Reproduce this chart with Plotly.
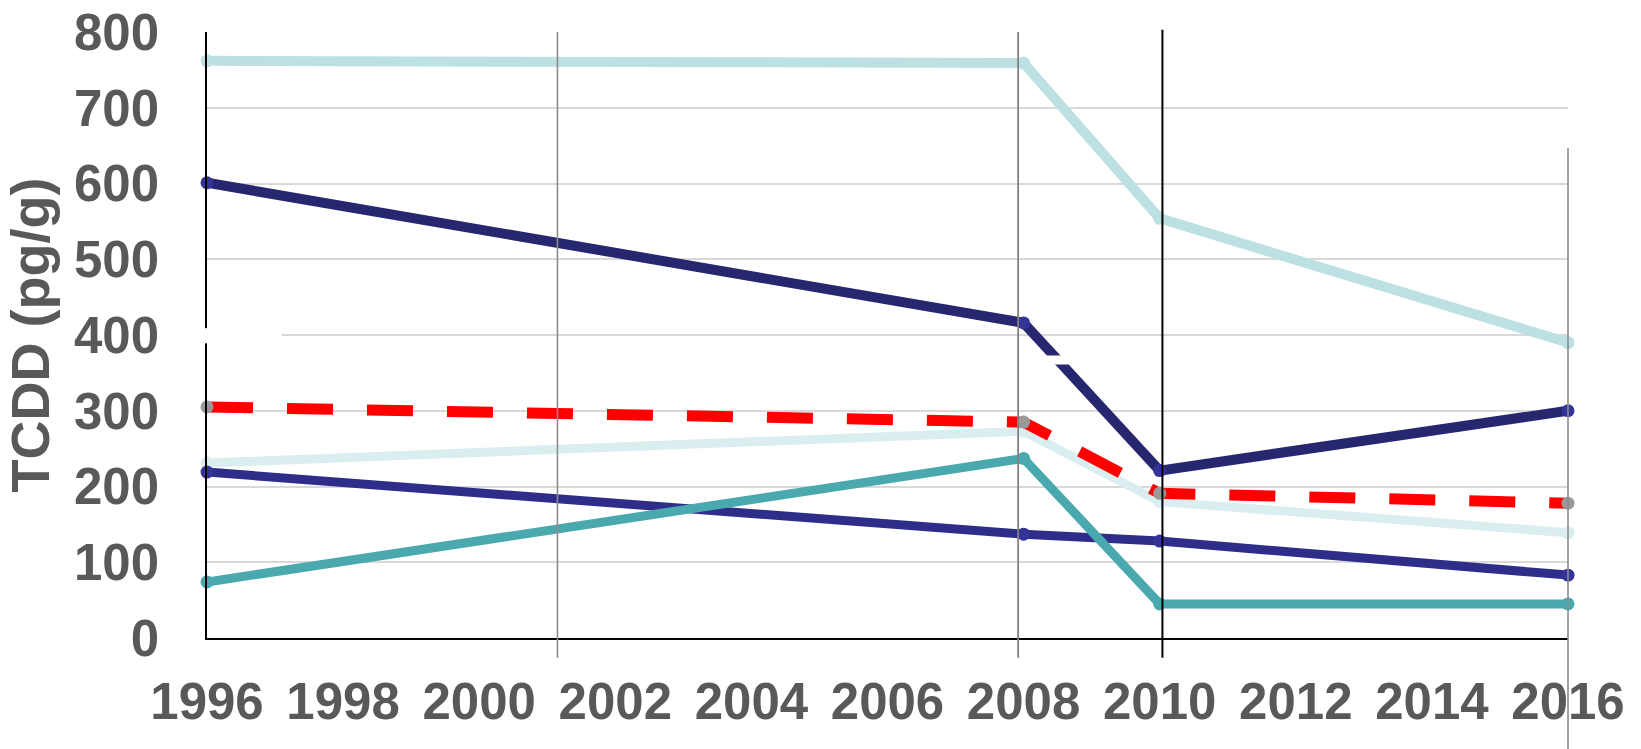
import plotly.graph_objects as go

# Sampling years and TCDD concentrations (pg/g) for each series
years = [1996, 2008, 2010, 2016]

series_a = [762, 759, 554, 390]   # light blue
series_b = [601, 416, 221, 300]   # dark navy
series_c = [305, 285, 191, 178]   # red dashed reference
series_d = [231, 273, 180, 139]   # pale blue
series_e = [219, 137, 128, 83]    # navy
series_f = [74, 237, 45, 45]      # teal

x_min, x_max = 1996, 2016
y_min, y_max = 0, 800

# Vertical reference lines: (year, value from, value to, colour, width)
ref_lines = [
    (2001.15, -26, 800, "#8c8c8c", 1.6),
    (2007.92, -26, 800, "#808080", 1.8),
    (2010.04, -26, 803, "#000000", 2.0),
    (2016.0, -160, 647, "#8c8c8c", 1.6),
]

x_ticks = list(range(1996, 2017, 2))
y_ticks = list(range(0, 801, 100))

styles = [
    (series_a, "#bde0e3", "#bde0e3", 10, "solid"),
    (series_b, "#27276f", "#333399", 10, "solid"),
    (series_d, "#daeef0", "#daeef0", 9, "solid"),
    (series_e, "#2e2e8a", "#333399", 9, "solid"),
    (series_f, "#4aa9af", "#4aa9af", 9, "solid"),
    (series_c, "#ff0000", "#999999", 11, "46px,34px"),
]

fig = go.Figure()
for vals, lc, mc, lw, dash in styles:
    fig.add_trace(go.Scatter(
        x=years, y=vals, mode="lines+markers",
        line=dict(color=lc, width=lw, dash=dash),
        marker=dict(color=mc, size=13),
        cliponaxis=False, showlegend=False, hoverinfo="skip",
    ))


def px(year):
    return (year - x_min) / (x_max - x_min)


def py(value):
    return (value - y_min) / (y_max - y_min)


# reference lines in paper coordinates so they may run past the axis
shapes = []
for x, y0, y1, col, w in ref_lines:
    shapes.append(dict(type="line", xref="paper", yref="paper",
                       x0=px(x), x1=px(x), y0=py(y0), y1=py(y1),
                       line=dict(color=col, width=w), layer="above"))

# small white breaks on the axis, the 400 gridline and the navy series
shapes.append(dict(type="rect", xref="paper", yref="paper", x0=px(1995.95), x1=px(1996.05),
                   y0=py(389), y1=py(409), fillcolor="white", line=dict(width=0), layer="above"))
shapes.append(dict(type="line", xref="x", yref="y", x0=1996.05, x1=1997.1, y0=400, y1=400,
                   line=dict(color="white", width=3), layer="above"))
shapes.append(dict(type="rect", xref="x", yref="y", x0=2008.25, x1=2008.9, y0=361, y1=373,
                   fillcolor="white", line=dict(width=0), layer="above"))

font_family = "Liberation Sans, Arial, sans-serif"
tick_font = dict(size=51, family=font_family, color="#595959", weight="bold")

fig.update_layout(
    width=1641, height=749,
    margin=dict(l=207, r=73, t=32, b=111),
    paper_bgcolor="white", plot_bgcolor="white",
    shapes=shapes,
    font=dict(family=font_family, color="#595959"),
    xaxis=dict(
        range=[x_min, x_max], tickvals=x_ticks, ticktext=[str(t) for t in x_ticks],
        showgrid=False, zeroline=False, showline=True, linecolor="#000000", linewidth=1.5,
        ticks="", tickfont=tick_font, ticklabelstandoff=18, automargin=False,
    ),
    yaxis=dict(
        range=[y_min, y_max], tickvals=y_ticks,
        showgrid=True, gridcolor="#d9d9d9", gridwidth=1.5, zeroline=False,
        showline=True, linecolor="#000000", linewidth=1.5, ticks="",
        tickfont=tick_font, ticklabelstandoff=36, automargin=False,
        title=dict(text="TCDD (pg/g)", standoff=10,
                   font=dict(size=54, family=font_family, color="#595959", weight="bold")),
    ),
)

fig.write_html("out.html")
